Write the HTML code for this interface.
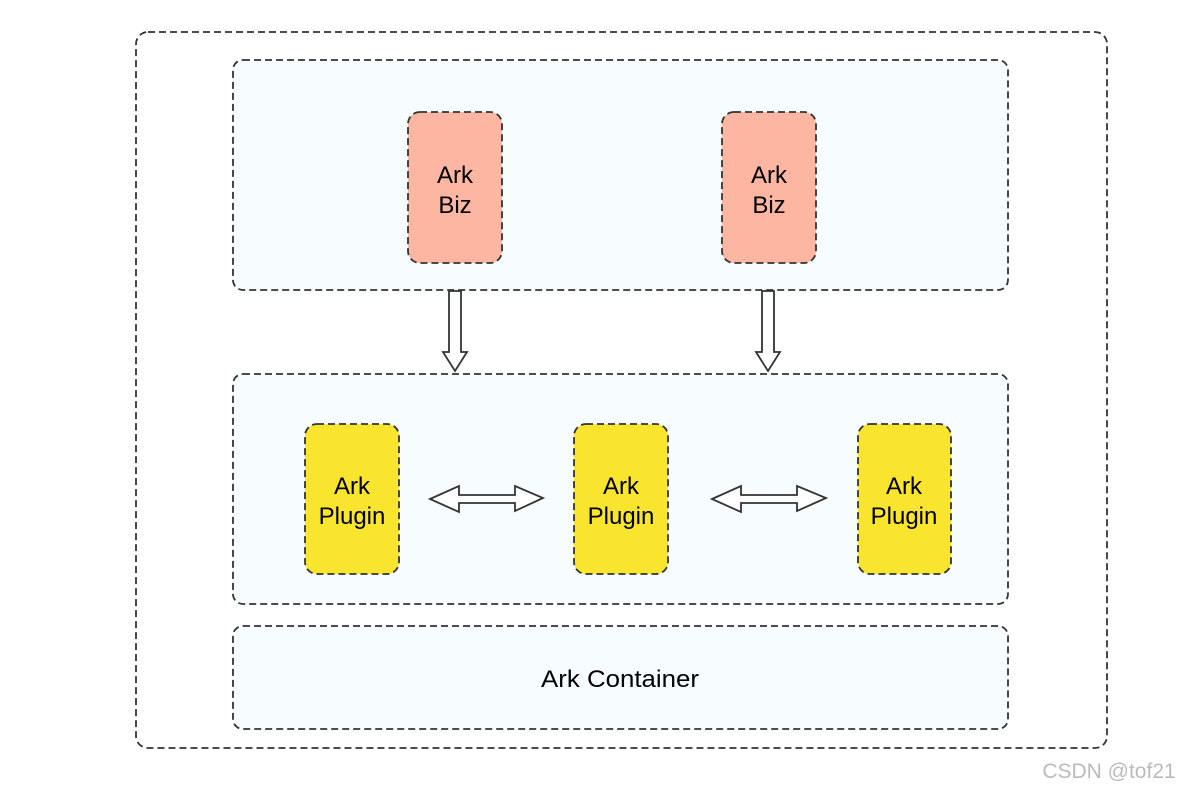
<!DOCTYPE html>
<html><head><meta charset="utf-8"><style>
html,body{margin:0;padding:0;background:#fff;}
svg{display:block;}
text{font-family:"Liberation Sans",sans-serif;}
</style></head><body>
<svg width="1182" height="791" viewBox="0 0 1182 791" xmlns="http://www.w3.org/2000/svg">
<g stroke="#333" stroke-width="1.8" stroke-dasharray="7,4">
<rect x="136" y="32" width="971" height="716" rx="12" fill="#fff"/>
<rect x="233" y="60" width="775" height="230" rx="10" fill="#f7fcff"/>
<rect x="233" y="374" width="775" height="230" rx="10" fill="#f7fcff"/>
<rect x="233" y="626" width="775" height="103" rx="10" fill="#f7fcff"/>
<rect x="408" y="112" width="94" height="151" rx="12" fill="#fcb6a2"/>
<rect x="722" y="112" width="94" height="151" rx="12" fill="#fcb6a2"/>
<rect x="305" y="424" width="94" height="150" rx="12" fill="#fae52e"/>
<rect x="574" y="424" width="94" height="150" rx="12" fill="#fae52e"/>
<rect x="858" y="424" width="93" height="150" rx="12" fill="#fae52e"/>
</g>
<g stroke="#333" stroke-width="1.8" fill="#fff">
<path d="M449,291 H461 V352 H467 L455,371 L443,352 H449 Z"/>
<path d="M762,291 H774 V352 H780 L768,371 L756,352 H762 Z"/>
<path d="M430,499 L459,486 V495 H515 V486 L543,498 L515,511 V503 H459 V512 Z"/>
<path d="M712,499 L741,486 V495 H797 V486 L826,498 L797,511 V503 H741 V512 Z"/>
</g>
<g font-size="24" fill="#000" text-anchor="middle">
<text x="455" y="183">Ark</text><text x="455" y="213">Biz</text>
<text x="769" y="183">Ark</text><text x="769" y="213">Biz</text>
<text x="352" y="494">Ark</text><text x="352" y="524">Plugin</text>
<text x="621" y="494">Ark</text><text x="621" y="524">Plugin</text>
<text x="904" y="494">Ark</text><text x="904" y="524">Plugin</text>
<text x="620" y="687" textLength="158" lengthAdjust="spacingAndGlyphs">Ark Container</text>
</g>
<text x="1109" y="778" font-size="21" fill="#bbb" text-anchor="middle">CSDN @tof21</text>
</svg>
</body></html>
